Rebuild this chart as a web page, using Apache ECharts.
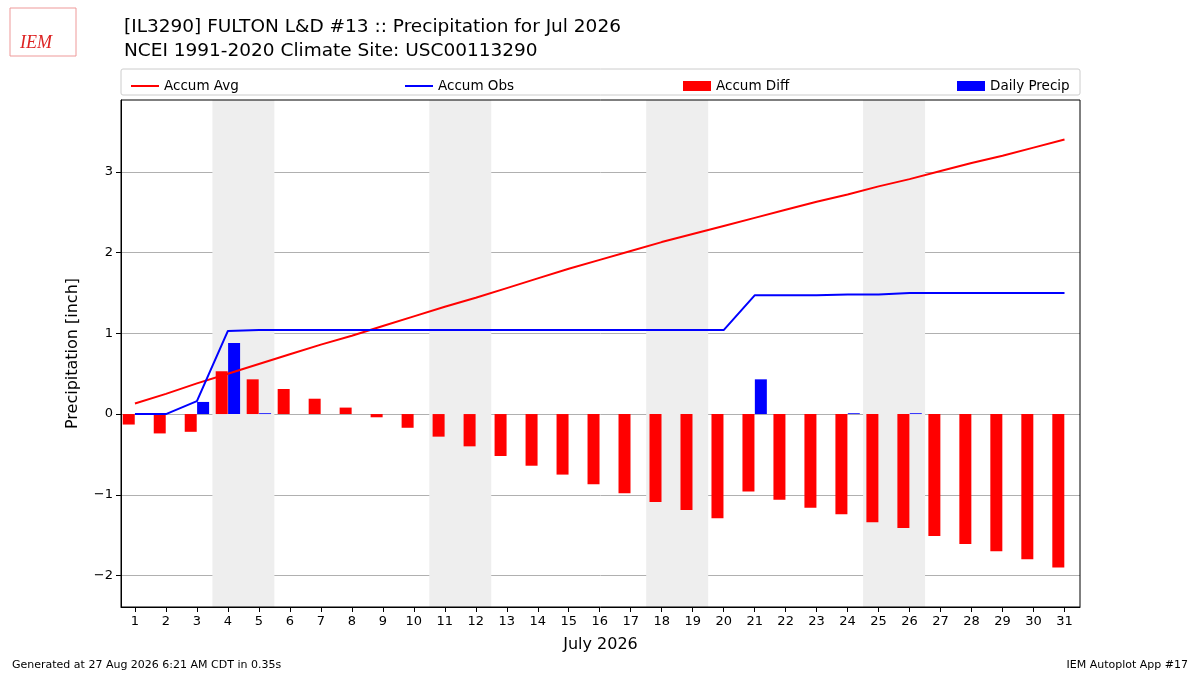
<!DOCTYPE html>
<html>
<head>
<meta charset="UTF-8">
<title>Precipitation</title>
<script src="https://cdn.jsdelivr.net/npm/echarts@6/dist/echarts.min.js"></script>
<style>body{margin:0;background:#fff}#main{width:1200px;height:675px}</style>
</head>
<body>
<div id="main"></div>
<script>
var days = [];
for (var d = 1; d <= 31; d++) days.push(d);
var accumAvg = [0.13,0.25,0.38,0.50,0.62,0.74,0.86,0.97,1.09,1.21,1.33,1.44,1.56,1.68,1.80,1.91,2.02,2.13,2.23,2.33,2.43,2.53,2.63,2.72,2.82,2.91,3.01,3.11,3.20,3.30,3.40];
var accumObs = [0,0,0.16,1.03,1.04,1.04,1.04,1.04,1.04,1.04,1.04,1.04,1.04,1.04,1.04,1.04,1.04,1.04,1.04,1.04,1.47,1.47,1.47,1.48,1.48,1.50,1.50,1.50,1.50,1.50,1.50];
var accumDiff = [-0.13,-0.24,-0.22,0.53,0.43,0.31,0.19,0.08,-0.04,-0.17,-0.28,-0.40,-0.52,-0.64,-0.75,-0.87,-0.98,-1.09,-1.19,-1.29,-0.96,-1.06,-1.16,-1.24,-1.34,-1.41,-1.51,-1.61,-1.70,-1.80,-1.90];
var dailyPrecip = [0,0,0.15,0.88,0.01,0,0,0,0,0,0,0,0,0,0,0,0,0,0,0,0.43,0,0,0.01,0,0.01,0,0,0,0,0];
var weekends = [[3.5,5.5],[10.5,12.5],[17.5,19.5],[24.5,26.5]];
var yTicks = [-2,-1,0,1,2,3];

function pairs(vals, off) {
  return vals.map(function (v, i) { return [days[i] + off, v]; });
}

var chart = echarts.init(document.getElementById('main'));
var font = 'DejaVu Sans';
function leg(name, left, h) {
  return { data: [{ name: name, icon: 'rect' }], left: left, top: 74, itemWidth: 28, itemHeight: h, itemGap: 12,
    textStyle: { fontFamily: font, fontSize: 13.5, color: '#000' } };
}
chart.setOption({
  animation: false,
  textStyle: { fontFamily: font },
  title: [{
    text: '[IL3290] FULTON L&D #13 :: Precipitation for Jul 2026\nNCEI 1991-2020 Climate Site: USC00113290',
    left: 119, top: 10,
    textStyle: { fontFamily: font, fontSize: 18.5, fontWeight: 'normal', lineHeight: 24, color: '#000' }
  }],
  legend: [leg('Accum Avg', 126, 2), leg('Accum Obs', 400, 2), leg('Accum Diff', 678, 10), leg('Daily Precip', 952, 10)],
  graphic: [
    { type: 'rect', shape: { x: 121, y: 69, width: 959, height: 26, r: 2 }, style: { fill: 'none', stroke: '#ccc' } },
    { type: 'rect', shape: { x: 121, y: 100, width: 959, height: 507 }, style: { fill: 'none', stroke: '#000' }, z: 10 },
    { type: 'text', left: 20, top: 34, style: { text: 'IEM', fill: '#d22', font: 'italic 18px Liberation Serif' } },
    { type: 'rect', shape: { x: 10, y: 8, width: 66, height: 48 }, style: { fill: 'none', stroke: '#e99', lineWidth: 1 } },
    { type: 'text', left: 12, top: 660, style: { text: 'Generated at 27 Aug 2026 6:21 AM CDT in 0.35s', fill: '#000', font: '11px DejaVu Sans' } },
    { type: 'text', right: 12, top: 660, style: { text: 'IEM Autoplot App #17', fill: '#000', font: '11px DejaVu Sans' } }
  ],
  grid: { left: 121, right: 120, top: 100, bottom: 68 },
  xAxis: {
    type: 'value', min: 0.55, max: 31.5,
    name: 'July 2026', nameLocation: 'middle', nameGap: 30,
    nameTextStyle: { fontSize: 16, color: '#000' },
    axisLine: { onZero: false, lineStyle: { color: '#000' } },
    axisTick: { show: true, customValues: days, lineStyle: { color: '#000' } },
    axisLabel: { color: '#000', fontSize: 13, customValues: days },
    splitLine: { show: false }
  },
  yAxis: {
    type: 'value', min: -2.39, max: 3.89,
    name: 'Precipitation [inch]', nameLocation: 'middle', nameGap: 40,
    nameTextStyle: { fontSize: 16, color: '#000' },
    axisLine: { show: true, lineStyle: { color: '#000' } },
    axisTick: { show: true, customValues: yTicks, lineStyle: { color: '#000' } },
    axisLabel: { color: '#000', fontSize: 13, customValues: yTicks,
      formatter: function (v) { return v < 0 ? '\u2212' + (-v) : v; } },
    splitLine: { show: true, lineStyle: { color: '#b0b0b0' } }
  },
  series: [
    { name: 'Accum Avg', type: 'line', data: pairs(accumAvg, 0), symbol: 'none',
      lineStyle: { color: '#ff0000', width: 2 }, itemStyle: { color: '#ff0000' }, z: 5,
      markArea: { silent: true, itemStyle: { color: '#eeeeee' },
        data: weekends.map(function (w) { return [{ xAxis: w[0] }, { xAxis: w[1] }]; }) } },
    { name: 'Accum Obs', type: 'line', data: pairs(accumObs, 0), symbol: 'none',
      lineStyle: { color: '#0000ff', width: 2 }, itemStyle: { color: '#0000ff' }, z: 5 },
    { name: 'Accum Diff', type: 'bar', data: pairs(accumDiff, -0.2), barWidth: 12,
      barGap: '-100%', itemStyle: { color: '#ff0000' }, z: 3 },
    { name: 'Daily Precip', type: 'bar', data: pairs(dailyPrecip, 0.2), barWidth: 12,
      barGap: '-100%', itemStyle: { color: '#0000ff' }, z: 3 }
  ]
});
</script>
</body>
</html>
